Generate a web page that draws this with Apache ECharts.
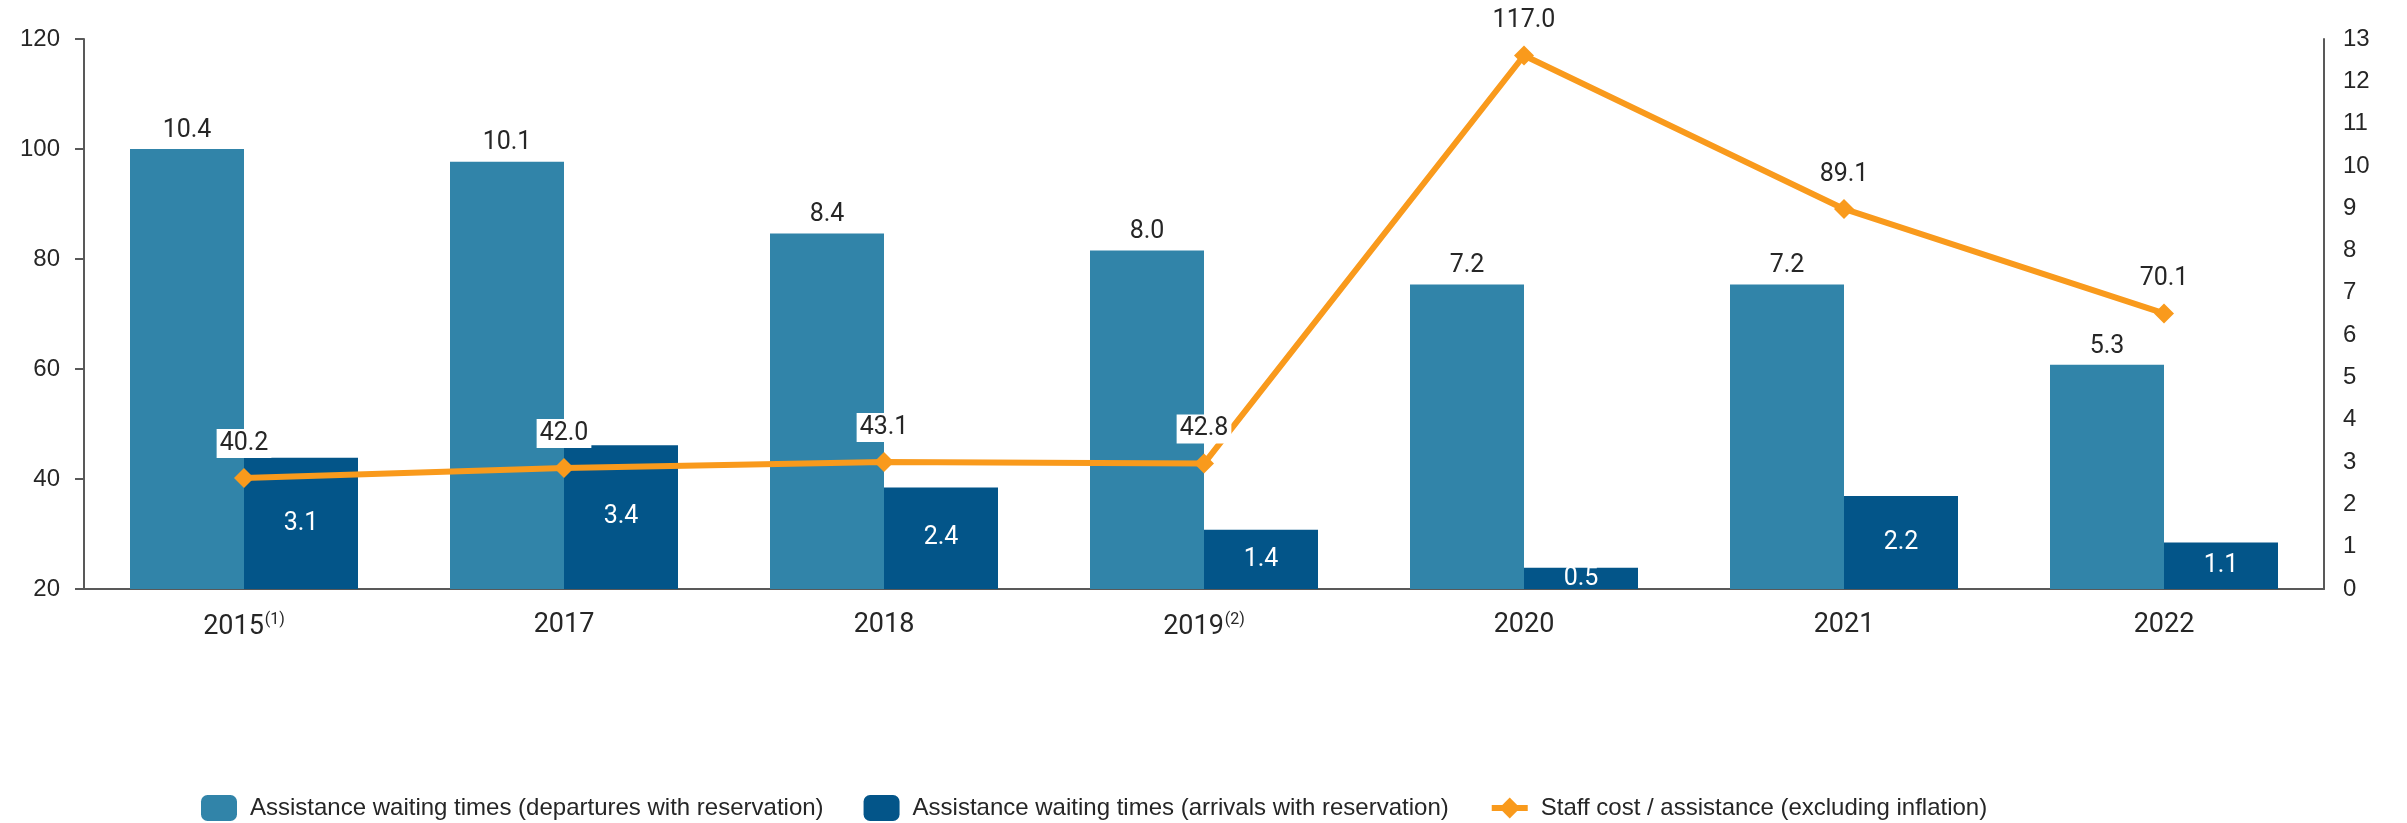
<!DOCTYPE html>
<html>
	<head>
		<meta charset="utf-8">
		<title></title>
		<style type="text/css">
			body{
				margin: 0;
				background: #ffffff;
			}
			#main{
				width: 2407px;
				height: 823px;
			}
		</style>
	</head>
	<body>
		<div id="main"></div>
	</body>
<script src="https://cdn.jsdelivr.net/npm/echarts@6.0.0/dist/echarts.min.js" type="text/javascript" charset="utf-8"></script>

<script type="text/javascript">
	// categories and footnote marks
	var years = ['2015', '2017', '2018', '2019', '2020', '2021', '2022'];
	var notes = ['(1)', '', '', '(2)', '', '', ''];

	// minutes, right axis
	var departures = [10.4, 10.1, 8.4, 8.0, 7.2, 7.2, 5.3];
	var arrivals = [3.1, 3.4, 2.4, 1.4, 0.5, 2.2, 1.1];
	// staff cost, left axis
	var staffCost = [40.2, 42.0, 43.1, 42.8, 117.0, 89.1, 70.1];

	var seriesNames = [
		'Assistance waiting times (departures with reservation)',
		'Assistance waiting times (arrivals with reservation)',
		'Staff cost / assistance (excluding inflation)'
	];

	var textColor = '#262626';
	var axisColor = '#595959';
	var orange = '#f99a1c';
	var labelFont = 'Roboto, "Liberation Sans", sans-serif';
	var tickFont = '"Liberation Sans", Arial, sans-serif';

	var chartDom = document.getElementById('main');
	var myChart = echarts.init(chartDom);
	var option;

	option = {
		animation: false,
		textStyle: {
			fontFamily: labelFont,
			color: textColor
		},
		grid: {
			left: 84,
			right: 83,
			top: 39,
			bottom: 234
		},
		legend: {
			left: 196,
			top: 790,
			itemWidth: 36,
			itemHeight: 26,
			itemGap: 40,
			textStyle: {
				fontSize: 24,
				fontFamily: tickFont,
				color: textColor,
				padding: [0, 0, 0, 8]
			},
			data: [
				seriesNames[0],
				seriesNames[1],
				{name: seriesNames[2], lineStyle: {width: 6, color: orange}}
			]
		},
		xAxis: {
			type: 'category',
			data: years,
			axisLine: {
				lineStyle: {color: axisColor, width: 2}
			},
			axisTick: {show: false},
			axisLabel: {
				margin: 23,
				fontSize: 27,
				color: textColor,
				formatter: function(value, idx){
					if (notes[idx]) {
						return value + '{sup|' + notes[idx] + '}';
					}
					return value;
				},
				rich: {
					sup: {
						fontSize: 16,
						color: textColor,
						verticalAlign: 'top',
						padding: [0, 0, 14, 1]
					}
				}
			}
		},
		yAxis: [
			{
				type: 'value',
				min: 20,
				max: 120,
				interval: 20,
				position: 'left',
				splitLine: {show: false},
				axisLine: {
					show: true,
					lineStyle: {color: axisColor, width: 2}
				},
				axisTick: {
					show: true,
					length: 9,
					lineStyle: {color: axisColor, width: 2}
				},
				axisLabel: {
					margin: 24,
					fontSize: 24,
					fontFamily: tickFont,
					color: textColor
				}
			},
			{
				type: 'value',
				min: 0,
				max: 13,
				interval: 1,
				position: 'right',
				splitLine: {show: false},
				axisLine: {
					show: true,
					lineStyle: {color: axisColor, width: 2}
				},
				axisTick: {show: false},
				axisLabel: {
					margin: 19,
					fontSize: 24,
					fontFamily: tickFont,
					color: textColor
				}
			}
		],
		series: [
			{
				name: seriesNames[0],
				type: 'bar',
				yAxisIndex: 1,
				data: departures,
				barGap: '0%',
				barCategoryGap: '28.75%',
				itemStyle: {color: '#3184a9'},
				label: {
					show: true,
					position: 'top',
					distance: 6,
					fontSize: 25,
					color: textColor,
					formatter: function(p){ return p.value.toFixed(1); }
				}
			},
			{
				name: seriesNames[1],
				type: 'bar',
				yAxisIndex: 1,
				data: arrivals,
				itemStyle: {color: '#035589'},
				label: {
					show: true,
					position: 'inside',
					fontSize: 25,
					color: '#ffffff',
					formatter: function(p){ return p.value.toFixed(1); }
				}
			},
			{
				name: seriesNames[2],
				type: 'line',
				yAxisIndex: 0,
				data: staffCost,
				symbol: 'diamond',
				symbolSize: 20,
				z: 5,
				lineStyle: {color: orange, width: 6},
				itemStyle: {color: orange},
				label: {
					show: true,
					position: 'top',
					distance: 10,
					fontSize: 25,
					color: textColor,
					backgroundColor: '#ffffff',
					padding: [2, 3],
					formatter: function(p){ return p.value.toFixed(1); }
				}
			}
		]
	};

	option && myChart.setOption(option);
</script>
</html>
